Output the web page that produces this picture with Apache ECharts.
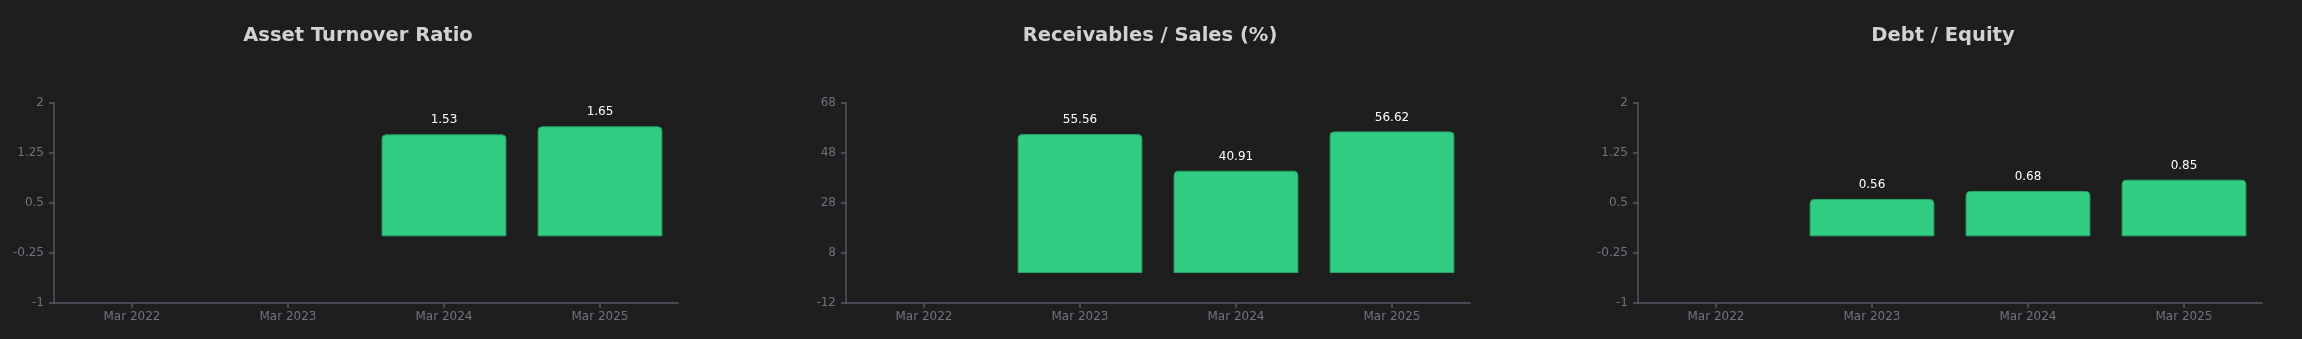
<!DOCTYPE html>
<html>
<head>
<meta charset="utf-8">
<title>Financial Ratios</title>
<script src="https://cdn.jsdelivr.net/npm/echarts@6/dist/echarts.min.js"></script>
<style>
  html, body { margin: 0; padding: 0; background: #1e1e1e; }
  #chart { width: 2302px; height: 339px; }
</style>
</head>
<body>
<div id="chart"></div>
<script>
// Fiscal year-ends shown on every panel
const periods = ['Mar 2022', 'Mar 2023', 'Mar 2024', 'Mar 2025'];

// Ratio values per period (null = not reported)
const assetTurnover = [null, null, 1.53, 1.65];
const receivablesToSales = [null, 55.56, 40.91, 56.62];
const debtToEquity = [null, 0.56, 0.68, 0.85];

// Panel titles
const panelTitles = ['Asset Turnover Ratio', 'Receivables / Sales (%)', 'Debt / Equity'];

// Value-axis ranges: [min, max, interval]
const ratioAxisRange = [-1, 2, 0.75];
const percentAxisRange = [-12, 68, 20];

const FONT = 'DejaVu Sans';
const panels = [
  { data: assetTurnover, range: ratioAxisRange },
  { data: receivablesToSales, range: percentAxisRange },
  { data: debtToEquity, range: ratioAxisRange }
];

const gridLefts = [54, 846, 1638];
const gridWidth = 624;
const titleCenters = [353, 1145, 1938];

const axisColor = '#565964';
const tickLabelColor = '#6f7380';

const chart = echarts.init(document.getElementById('chart'), null, { renderer: 'canvas' });

const option = {
  backgroundColor: '#1e1e1e',
  animation: false,
  title: panelTitles.map((t, i) => ({
    text: t,
    left: titleCenters[i],
    top: 21,
    textAlign: 'center',
    textStyle: { color: '#d2d2d2', fontSize: 19.5, fontWeight: 'bold', fontFamily: FONT }
  })),
  grid: panels.map((p, i) => ({
    left: gridLefts[i],
    width: gridWidth,
    top: 103,
    height: 200,
    containLabel: false
  })),
  xAxis: panels.map((p, i) => ({
    type: 'category',
    gridIndex: i,
    data: periods,
    axisLine: { show: true, onZero: false, lineStyle: { color: axisColor, width: 1.5 } },
    axisTick: { show: true, alignWithLabel: true, length: 5, lineStyle: { color: axisColor, width: 1.5 } },
    axisLabel: { color: tickLabelColor, fontSize: 12, fontFamily: FONT, margin: 8 },
    splitLine: { show: false }
  })),
  yAxis: panels.map((p, i) => ({
    type: 'value',
    gridIndex: i,
    min: p.range[0],
    max: p.range[1],
    interval: p.range[2],
    axisLine: { show: true, onZero: false, lineStyle: { color: axisColor, width: 1.5 } },
    axisTick: { show: true, length: 5, lineStyle: { color: axisColor, width: 1.5 } },
    axisLabel: { color: tickLabelColor, fontSize: 12, fontFamily: FONT, margin: 10 },
    splitLine: { show: false }
  })),
  series: panels.map((p, i) => ({
    type: 'bar',
    xAxisIndex: i,
    yAxisIndex: i,
    data: p.data,
    barWidth: '80%',
    itemStyle: {
      color: '#32cd84',
      borderColor: '#26a363',
      borderWidth: 1,
      borderRadius: [4, 4, 0, 0]
    },
    label: {
      show: true,
      position: 'top',
      distance: 8,
      color: '#ffffff',
      fontSize: 12,
      fontFamily: FONT,
      formatter: (d) => (d.value == null ? '' : Number(d.value).toFixed(2))
    }
  }))
};

chart.setOption(option);
</script>
</body>
</html>
